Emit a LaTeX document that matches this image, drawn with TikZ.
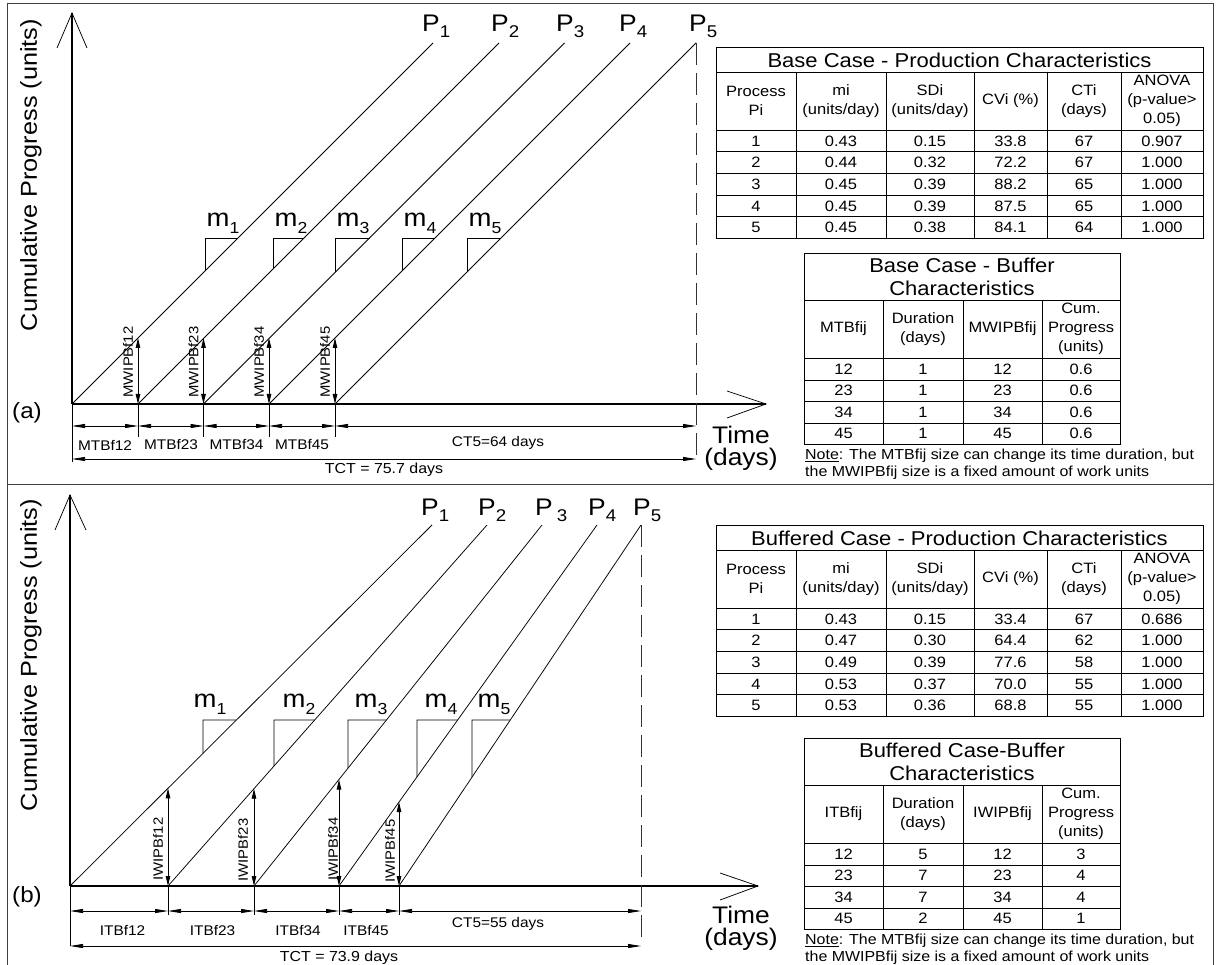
\documentclass[tikz,border=0pt]{standalone}
\usepackage{fontspec}
\setmainfont[FakeStretch=1.1]{Liberation Sans}
\usetikzlibrary{arrows.meta,calc}
\newcommand\fsz[2]{\fontsize{#1}{#2}\selectfont}
\newcommand\lowsub[3]{\raisebox{-#1}{\fsz{#2}{#2}#3}}
\newcommand\psub[1]{P\lowsub{6pt}{17}{#1}}

\tikzset{
  ln/.style={line width=0.75pt},
  axisl/.style={line width=1.1pt},
  frameln/.style={line width=1pt, black!75},
  tbl/.style={line width=0.8pt},
  dimtip/.tip={Triangle[length=13pt,width=4pt]},
  dimline/.style={line width=0.75pt, dimtip-dimtip},
  wtip/.tip={Triangle[length=10pt,width=4.5pt]},
  warrow/.style={line width=0.9pt, wtip-wtip},
  dashl/.style={line width=0.9pt, dash pattern=on 22pt off 8pt, black!80},
  txt/.style={inner sep=0pt, font=\fsz{15}{19}, align=center},
  ttl/.style={inner sep=0pt, font=\fsz{20}{23}, align=center},
  notel/.style={inner sep=0pt, anchor=west, font=\fsz{14.5}{14.5}},
  mlab/.style={inner sep=0pt, font=\fsz{25}{25}},
  plab/.style={inner sep=0pt, anchor=base west, font=\fsz{24}{24}},
  wlab/.style={inner sep=0pt, rotate=90, font=\fsz{13.5}{13.5}},
  dlab/.style={inner sep=0pt, font=\fsz{14}{14}},
  tlab/.style={inner sep=0pt, font=\fsz{14.5}{14.5}},
  axlab/.style={inner sep=0pt, font=\fsz{23}{23}, rotate=90},
  timelab/.style={inner sep=0pt, font=\fsz{24}{22}, align=center},
  panlab/.style={inner sep=0pt, font=\fsz{22}{22}},
}

% production table: #1 y shift, #2 title, #3 data, #4 prefix
\newcommand\prodtab[4]{%
\begin{scope}[shift={(0,#1)}]
  \draw[tbl] (716,47) rectangle (1203,238.5);
  \foreach \yy in {72,130,151.7,173.4,195.1,216.8} \draw[tbl] (716,\yy) -- (1203,\yy);
  \foreach \xx in {796,886,974,1047,1121} \draw[tbl] (\xx,72) -- (\xx,238.5);
  \node[ttl] (#4title) at (959.5,60) {#2};
  \foreach \xx/\hd [count=\kk] in {756/{Process\\Pi}, 841/{mi\\(units/day)}, 930/{SDi\\(units/day)}, 1010.5/{CVi (\%)}, 1084/{CTi\\(days)}, 1162/{ANOVA\\(p-value>\\0.05)}}
    \node[txt] (#4h\kk) at (\xx,101) {\hd};
  \foreach \yy/\va/\vb/\vc/\vd/\ve/\vf [count=\kk] in {#3} {
    \node[txt] (#4r\kk c1) at (756,\yy) {\va};
    \node[txt] (#4r\kk c2) at (841,\yy) {\vb};
    \node[txt] (#4r\kk c3) at (930,\yy) {\vc};
    \node[txt] (#4r\kk c4) at (1010.5,\yy) {\vd};
    \node[txt] (#4r\kk c5) at (1084,\yy) {\ve};
    \node[txt] (#4r\kk c6) at (1162,\yy) {\vf};
  }
\end{scope}}

% buffer table: #1 y shift, #2 title, #3 col1 head, #4 col3 head, #5 data, #6 prefix
\newcommand\buftab[6]{%
\begin{scope}[shift={(0,#1)}]
  \draw[tbl] (804,253) rectangle (1120,444);
  \foreach \yy in {300,358,380,401.5,423} \draw[tbl] (804,\yy) -- (1120,\yy);
  \foreach \xx in {883,963,1042} \draw[tbl] (\xx,300) -- (\xx,444);
  \node[ttl] (#6title) at (962,277) {#2};
  \node[txt] (#6h1) at (843.5,329) {#3};
  \node[txt] (#6h2) at (923,329) {Duration\\(days)};
  \node[txt] (#6h3) at (1002.5,329) {#4};
  \node[txt] (#6h4) at (1081,329) {Cum.\\Progress\\(units)};
  \foreach \yy/\va/\vb/\vc/\vd [count=\kk] in {#5} {
    \node[txt] (#6r\kk c1) at (843.5,\yy) {\va};
    \node[txt] (#6r\kk c2) at (923,\yy) {\vb};
    \node[txt] (#6r\kk c3) at (1002.5,\yy) {\vc};
    \node[txt] (#6r\kk c4) at (1081,\yy) {\vd};
  }
  \node[notel] (#6n1) at (805,456) {\underline{Note}: The MTBfij size can change its time duration, but};
  \node[notel] (#6n2) at (805,473) {the MWIPBfij size is a fixed amount of work units};
\end{scope}}

\begin{document}
\begin{tikzpicture}[x=1pt,y=-1pt]
\useasboundingbox (0,0) rectangle (1218,965);
% frame
\coordinate (fBL) at (7,970); \coordinate (fTL) at (7,4);
\coordinate (fTR) at (1213,4); \coordinate (fBR) at (1213,970);
\coordinate (fML) at (7,484); \coordinate (fMR) at (1213,484);
\draw[frameln] (fBL) -- (fTL) -- (fTR) -- (fBR);
\draw[frameln] (fML) -- (fMR);

%================ PANEL (a) =================
\coordinate (aO) at (72,404);
\coordinate (aYt) at (72,13);
\coordinate (aYl) at (57,48); \coordinate (aYr) at (87,48);
\coordinate (aXt) at (766,404);
\coordinate (aXu) at (727,391); \coordinate (aXd) at (727,418);
\draw[axisl] (aO) -- (aYt);
\draw[ln] (aYl) -- (aYt) -- (aYr);
\draw[axisl] (aO) -- (aXt);
\draw[ln] (aXu) -- (aXt) -- (aXd);

\foreach \i/\s/\v/\px in {1/72/205/422, 2/138/273/491, 3/203.5/335/556, 4/269/402/619, 5/335/467/689} {
  \coordinate (aS\i) at (\s,404);
  \coordinate (aE\i) at ({\s+361},43);
  \draw[ln] (aS\i) -- (aE\i);
  \coordinate (aT\i) at (\v,238);
  \coordinate (aTh\i) at ({\s+166},238);
  \coordinate (aTv\i) at (\v,{404-\v+\s});
  \draw[ln] (aTh\i) -- (aT\i) -- (aTv\i);
  \node[mlab] (aM\i) at ({\v+18},223) {m\lowsub{7pt}{16}{\i}};
  \node[plab] (aP\i) at (\px,32) {\psub{\i}};
}
\coordinate (aDash) at (696,462);
\draw[dashl] (aE5) -- (aDash);

\foreach \i/\j/\x in {1/2/138, 2/3/203.5, 3/4/269, 4/5/335} {
  \coordinate (aW\i) at (\x,338);
  \draw[warrow] (aS\j) -- (aW\i);
  \node[wlab] (aWL\i) at ({\x-10},362) {MWIPBf\i\j};
}

% dimension lines (a)
\coordinate (aOt) at (72,462);
\draw[ln] (aO) -- (aOt);
\foreach \j in {2,3,4,5} {
  \coordinate (aK\j) at ($(aS\j)+(0,33)$);
  \draw[ln] (aS\j) -- (aK\j);
}
\foreach \i/\x in {1/72,2/138,3/203.5,4/269,5/335,6/696} \coordinate (aD\i) at (\x,426);
\foreach \i/\j in {1/2,2/3,3/4,4/5,5/6} \draw[dimline] (aD\i) -- (aD\j);
\node[dlab] (aL1) at (105,445) {MTBf12};
\node[dlab] (aL2) at (171,445) {MTBf23};
\node[dlab] (aL3) at (236.5,445) {MTBf34};
\node[dlab] (aL4) at (302,445) {MTBf45};
\node[dlab] (aL5) at (498,443) {CT5=64 days};
\coordinate (aC0) at (72,459); \coordinate (aC6) at (696,459);
\draw[dimline] (aC0) -- (aC6);
\node[tlab] (aTCT) at (384,470) {TCT = 75.7 days};

\node[timelab] (aTime) at (741,448) {Time\\(days)};
\node[panlab] (aLab) at (27,413) {(a)};
\node[axlab] (aYlab) at (31,175) {Cumulative Progress (units)};

\prodtab{0}{Base Case - Production Characteristics}{140.85/1/0.43/0.15/33.8/67/0.907, 162.55/2/0.44/0.32/72.2/67/1.000, 184.25/3/0.45/0.39/88.2/65/1.000, 205.95/4/0.45/0.39/87.5/65/1.000, 227.65/5/0.45/0.38/84.1/64/1.000}{pa}
\buftab{0}{Base Case - Buffer\\Characteristics}{MTBfij}{MWIPBfij}{369/12/1/12/0.6, 390.75/23/1/23/0.6, 412.25/34/1/34/0.6, 433.5/45/1/45/0.6}{ba}

%================ PANEL (b) =================
\coordinate (bO) at (70,886);
\coordinate (bYt) at (70,495);
\coordinate (bYl) at (55,530); \coordinate (bYr) at (86,530);
\coordinate (bXt) at (758,886);
\coordinate (bXu) at (720,873); \coordinate (bXd) at (720,900);
\draw[axisl] (bO) -- (bYt);
\draw[ln] (bYl) -- (bYt) -- (bYr);
\draw[axisl] (bO) -- (bXt);
\draw[ln] (bXu) -- (bXt) -- (bXd);

\foreach \i/\s/\e/\v/\vb/\mx/\px in {1/70/432/203/753.4/210/423, 2/168/487/274/766.0/299/480, 3/254/542/348/768.2/371/536, 4/339/597/417/776.9/441/590, 5/399/641/472/777.1/494/635} {
  \coordinate (bS\i) at (\s,886);
  \coordinate (bE\i) at (\e,525);
  \draw[ln] (bS\i) -- (bE\i);
  \coordinate (bT\i) at (\v,720);
  \coordinate (bTh\i) at ($(bS\i)!0.4598!(bE\i)$);
  \coordinate (bTv\i) at (\v,\vb);
  \draw[ln] (bTh\i) -- (bT\i) -- (bTv\i);
  \node[mlab] (bM\i) at (\mx,704) {m\lowsub{7pt}{16}{\i}};
}
\node[plab] (bP1) at (421,515) {\psub{1}};
\node[plab] (bP2) at (478,515) {\psub{2}};
\node[plab] (bP3) at (535,515) {P\,\lowsub{6pt}{17}{3}};
\node[plab] (bP4) at (588,515) {\psub{4}};
\node[plab] (bP5) at (633,515) {\psub{5}};
\coordinate (bDash) at (641,943);
\draw[dashl] (bE5) -- (bDash);

\foreach \i/\j/\x/\y/\lx/\ly in {1/2/168/788.3/158/849, 2/3/254/788.7/243/850, 3/4/339/779.5/333/849, 4/5/399/802/390/851} {
  \coordinate (bW\i) at (\x,\y);
  \draw[warrow] (bS\j) -- (bW\i);
  \node[wlab] (bWL\i) at (\lx,\ly) {IWIPBf\i\j};
}

% dimension lines (b)
\coordinate (bOt) at (70,946);
\draw[ln] (bO) -- (bOt);
\foreach \j in {2,3,4,5} {
  \coordinate (bK\j) at ($(bS\j)+(0,29)$);
  \draw[ln] (bS\j) -- (bK\j);
}
\foreach \i/\x in {1/70,2/168,3/254,4/339,5/399,6/641} \coordinate (bD\i) at (\x,911);
\foreach \i/\j in {1/2,2/3,3/4,4/5,5/6} \draw[dimline] (bD\i) -- (bD\j);
\node[dlab] (bL1) at (122.5,930) {ITBf12};
\node[dlab] (bL2) at (212.5,930) {ITBf23};
\node[dlab] (bL3) at (298,930) {ITBf34};
\node[dlab] (bL4) at (366,930) {ITBf45};
\node[dlab] (bL5) at (498,924) {CT5=55 days};
\coordinate (bC0) at (70,946); \coordinate (bC6) at (641,946);
\draw[dimline] (bC0) -- (bC6);
\node[tlab] (bTCT) at (339,958) {TCT = 73.9 days};

\node[timelab] (bTime) at (741,928) {Time\\(days)};
\node[panlab] (bLab) at (27,897) {(b)};
\node[axlab] (bYlab) at (31,655) {Cumulative Progress (units)};

\prodtab{478}{Buffered Case - Production Characteristics}{140.85/1/0.43/0.15/33.4/67/0.686, 162.55/2/0.47/0.30/64.4/62/1.000, 184.25/3/0.49/0.39/77.6/58/1.000, 205.95/4/0.53/0.37/70.0/55/1.000, 227.65/5/0.53/0.36/68.8/55/1.000}{pb}
\buftab{485}{Buffered Case-Buffer\\Characteristics}{ITBfij}{IWIPBfij}{369/12/5/12/3, 390.75/23/7/23/4, 412.25/34/7/34/4, 433.5/45/2/45/1}{bb}
\end{tikzpicture}
\end{document}
